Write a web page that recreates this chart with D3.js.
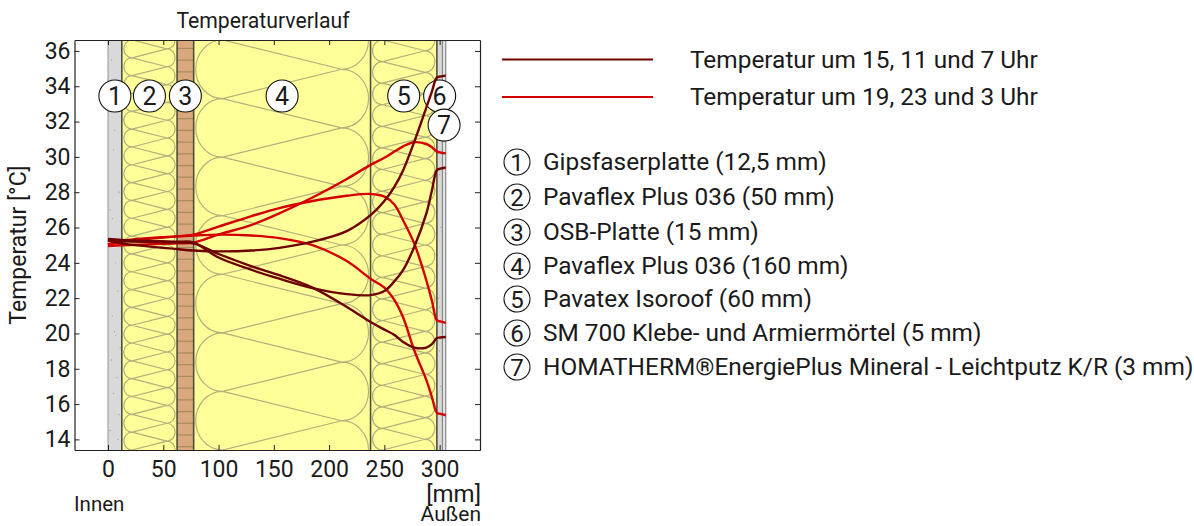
<!DOCTYPE html>
<html>
<head>
<meta charset="utf-8">
<script src="https://cdn.jsdelivr.net/npm/d3@7"></script>
<style>
  html, body { margin: 0; padding: 0; background: #fff; }
  svg { display: block; }
  text { font-family: Roboto, sans-serif; fill: #1a1a1a; }
</style>
</head>
<body>
<div id="chart"></div>
<script>
// Schichten von innen nach aussen
var layerNames = ['Gipsfaserplatte (12,5 mm)', 'Pavaflex Plus 036 (50 mm)', 'OSB-Platte (15 mm)',
  'Pavaflex Plus 036 (160 mm)', 'Pavatex Isoroof (60 mm)', 'SM 700 Klebe- und Armiermörtel (5 mm)',
  'HOMATHERM®EnergiePlus Mineral - Leichtputz K/R (3 mm)'];
var layerThickness = [12.5, 50, 15, 160, 60, 5, 3];
var layerKinds = ['gips', 'wool', 'osb', 'wool', 'wool', 'gips', 'putz'];
var woolLoops = [0, 23, 0, 7, 19, 0, 0];
var badgeTemps = [33.45, 33.45, 33.45, 33.45, 33.45, 33.45, 31.8];
var badgeMm = [6.25, 37.5, 70, 157.5, 267.5, 300, 304];

var xTicks = [0, 50, 100, 150, 200, 250, 300];
var yTicks = [14, 16, 18, 20, 22, 24, 26, 28, 30, 32, 34, 36];

var depth = [0, 12.5, 62.5, 77.5, 100, 130, 155, 185, 216, 237.5, 250, 259, 267, 277, 288, 293, 297.5, 300.5, 305.5];

// Temperatur um 15, 11 und 7 Uhr
var temp15 = [25.3, 25.1, 24.78, 24.7, 24.65, 24.7, 24.85, 25.2, 25.8, 26.7, 27.5, 28.3, 29.25, 30.85, 32.8, 33.7, 34.5, 34.55, 34.6];
var temp11 = [25.35, 25.3, 25.2, 25.15, 24.3, 23.6, 23.1, 22.57, 22.23, 22.17, 22.4, 22.95, 23.6, 24.9, 26.8, 28.1, 29.25, 29.33, 29.4];
var temp7 = [25.25, 25.22, 25.15, 25.1, 24.5, 23.8, 23.3, 22.6, 21.5, 20.65, 20.22, 19.92, 19.52, 19.2, 19.2, 19.4, 19.74, 19.77, 19.8];
// Temperatur um 19, 23 und 3 Uhr
var temp19 = [24.95, 25.0, 25.1, 25.15, 25.6, 26.15, 26.8, 27.7, 28.75, 29.55, 29.95, 30.3, 30.6, 30.83, 30.73, 30.55, 30.3, 30.25, 30.2];
var temp23 = [25.0, 25.2, 25.5, 25.6, 26.05, 26.65, 27.1, 27.5, 27.8, 27.9, 27.75, 27.3, 26.4, 25.1, 23.0, 21.85, 20.75, 20.68, 20.6];
var temp3 = [25.05, 25.25, 25.5, 25.55, 25.6, 25.55, 25.4, 25.0, 24.1, 23.1, 22.6, 21.9, 20.9, 19.05, 17.36, 16.4, 15.5, 15.45, 15.37];

var darkSeries = [temp15, temp11, temp7];
var redSeries = [temp19, temp23, temp3];

var legendLabels = ['Temperatur um 15, 11 und 7 Uhr', 'Temperatur um 19, 23 und 3 Uhr'];
var specksMm = [3, 8, 5, 10, 2, 7, 9, 4, 6, 11, 3, 8, 5, 10, 2, 7, 9, 6, 4, 300, 301, 299, 300, 301, 300];
var specksT = [35.5, 33, 30.4, 28, 27, 24, 22.4, 21, 20.1, 19.2, 18.5, 17.5, 16.6, 15.4, 14.5, 19.9, 14, 31.5, 26.5, 29, 26, 22, 19, 17, 21.5];

var w = 1194;
var h = 526;
var margin = ({top: 40, right: 714, bottom: 76, left: 74.5});
var dark = '#6e0000';
var red = '#d40000';

var x = d3.scaleLinear().domain([-30.3, 336.5]).range([margin.left, w - margin.right]);
var y = d3.scaleLinear().domain([13.4, 36.62]).range([h - margin.bottom, margin.top]);

var svg = d3.select('#chart').append('svg').attr('width', w).attr('height', h);

var yTop = y.range()[1];
var yBottom = y.range()[0];
var edges = Array.from(d3.cumsum(layerThickness));
var starts = [0].concat(edges);

// Schichten
layerThickness.forEach(function(t, i) {
  var x0 = x(starts[i]);
  var x1 = x(starts[i + 1]);
  var fill = {gips: '#d9d9d9', wool: '#ffff99', osb: '#d9a87c', putz: '#e4e4e4'}[layerKinds[i]];
  svg.append('rect').attr('x', x0).attr('y', yTop).attr('width', x1 - x0).attr('height', yBottom - yTop).attr('fill', fill);

  if (layerKinds[i] == 'wool') {
    var n = woolLoops[i];
    var p = (yBottom - yTop) / n;
    var ry = p / 2;
    var rx = ry * 0.92;
    var xl = x0 + 2 + rx;
    var xr = x1 - 2 - rx;
    var s = '';
    for (var k = 0; k < n; k++) {
      var yl = yTop + k * p;
      s += 'M' + xl + ',' + yl + 'A' + rx + ',' + ry + ' 0 0 0 ' + xl + ',' + (yl + p);
      s += 'M' + xr + ',' + (yl - ry) + 'A' + rx + ',' + ry + ' 0 0 1 ' + xr + ',' + (yl + ry);
      s += 'M' + xl + ',' + yl + 'L' + xr + ',' + (yl + ry);
      s += 'M' + xl + ',' + yl + 'L' + xr + ',' + (yl - ry);
    }
    s += 'M' + xr + ',' + (yBottom - ry) + 'A' + rx + ',' + ry + ' 0 0 1 ' + xr + ',' + (yBottom + ry);
    s += 'M' + xl + ',' + yBottom + 'L' + xr + ',' + (yBottom - ry);
    svg.append('clipPath').attr('id', 'clip' + i).append('rect')
      .attr('x', x0).attr('y', yTop).attr('width', x1 - x0).attr('height', yBottom - yTop);
    svg.append('path').attr('d', s).attr('clip-path', 'url(#clip' + i + ')')
      .attr('fill', 'none').attr('stroke', '#b3b07c').attr('stroke-width', 1.2);
  }

  if (layerKinds[i] == 'osb') {
    d3.range(35).forEach(function(k) {
      var yy = yBottom - 3.3 - k * (yBottom - yTop) / 35;
      svg.append('line').attr('x1', x0).attr('x2', x1).attr('y1', yy).attr('y2', yy)
        .attr('stroke', '#a98a5c').attr('stroke-width', 1.2);
    });
  }
});

// Punkte im Gips
svg.selectAll('.speck').data(specksMm).enter().append('circle')
  .attr('class', 'speck')
  .attr('cx', d => x(d))
  .attr('cy', (d, i) => y(specksT[i]))
  .attr('r', 0.6)
  .attr('fill', '#999');

// Schichtgrenzen
var borders = starts.slice(1);
svg.selectAll('.border').data(borders).enter().append('line')
  .attr('class', 'border')
  .attr('x1', d => x(d)).attr('x2', d => x(d))
  .attr('y1', yTop).attr('y2', yBottom)
  .attr('stroke', (d, i) => i >= 5 ? '#888' : '#4f4f40')
  .attr('stroke-width', (d, i) => i >= 5 ? 1.2 : 1.6);
svg.append('line').attr('x1', x(0)).attr('x2', x(0)).attr('y1', yTop).attr('y2', yBottom)
  .attr('stroke', '#999').attr('stroke-width', 1);

// Nummern im Diagramm (unter den Kurven)
var badges = svg.selectAll('.badge').data(badgeMm).enter().append('g')
  .attr('class', 'badge')
  .attr('transform', (d, i) => 'translate(' + x(d) + ',' + y(badgeTemps[i]) + ')');
badges.append('circle').attr('r', 16).attr('fill', '#fff').attr('stroke', '#111').attr('stroke-width', 1.1);
badges.append('text').attr('text-anchor', 'middle').attr('dy', '0.36em').attr('font-size', 25).text((d, i) => i + 1);

// Kurven
var line = d3.line().x((d, i) => x(depth[i])).y(d => y(d)).curve(d3.curveCatmullRom.alpha(0.5));
svg.selectAll('.red').data(redSeries).enter().append('path')
  .attr('class', 'red').attr('d', line).attr('fill', 'none').attr('stroke', red).attr('stroke-width', 2.4);
svg.selectAll('.dark').data(darkSeries).enter().append('path')
  .attr('class', 'dark').attr('d', line).attr('fill', 'none').attr('stroke', dark).attr('stroke-width', 2.4);

// Achsen
var xAxis = g => g
  .attr('transform', 'translate(0,' + yBottom + ')')
  .call(d3.axisBottom(x).tickValues(xTicks).tickSizeInner(-5).tickSizeOuter(0).tickPadding(11))
  .call(g => g.selectAll('text').attr('font-size', 23))
  .call(g => g.selectAll('line').attr('stroke', '#222'));
var xAxisTop = g => g
  .attr('transform', 'translate(0,' + yTop + ')')
  .call(d3.axisTop(x).tickValues(xTicks).tickSizeInner(-5).tickSizeOuter(0).tickFormat(''))
  .call(g => g.selectAll('line').attr('stroke', '#222'));
var yAxis = g => g
  .attr('transform', 'translate(' + margin.left + ',0)')
  .call(d3.axisLeft(y).tickValues(yTicks).tickSizeInner(-5).tickSizeOuter(0).tickPadding(4))
  .call(g => g.selectAll('text').attr('font-size', 23))
  .call(g => g.selectAll('line').attr('stroke', '#222'));
var yAxisRight = g => g
  .attr('transform', 'translate(' + (w - margin.right) + ',0)')
  .call(d3.axisRight(y).tickValues(yTicks).tickSizeInner(-5).tickSizeOuter(0).tickFormat(''))
  .call(g => g.selectAll('line').attr('stroke', '#222'));

svg.append('g').call(xAxis);
svg.append('g').call(xAxisTop);
svg.append('g').call(yAxis);
svg.append('g').call(yAxisRight);
svg.selectAll('.domain').attr('stroke', '#222').attr('stroke-width', 1.2);

// Beschriftung
svg.append('text').attr('x', 263).attr('y', 28).attr('text-anchor', 'middle').attr('font-size', 21.2).text('Temperaturverlauf');
svg.append('text').attr('transform', 'translate(26,245) rotate(-90)').attr('text-anchor', 'middle').attr('font-size', 23).text('Temperatur [°C]');
svg.append('text').attr('x', 74).attr('y', 511).attr('font-size', 20.5).text('Innen');
svg.append('text').attr('x', 481).attr('y', 501.5).attr('text-anchor', 'end').attr('font-size', 24).text('[mm]');
svg.append('text').attr('x', 481).attr('y', 520.8).attr('text-anchor', 'end').attr('font-size', 21).text('Außen');

// Legende
var legendY = [59.5, 97];
[dark, red].forEach(function(c, i) {
  svg.append('line').attr('x1', 502).attr('x2', 653).attr('y1', legendY[i]).attr('y2', legendY[i])
    .attr('stroke', c).attr('stroke-width', 2);
  svg.append('text').attr('x', 690).attr('y', legendY[i] + 8).attr('font-size', 24.4).text(legendLabels[i]);
});

var listY = [162, 197, 232, 266, 299, 333, 367];
layerNames.forEach(function(name, i) {
  svg.append('circle').attr('cx', 517).attr('cy', listY[i]).attr('r', 13).attr('fill', '#fff').attr('stroke', '#111').attr('stroke-width', 1.1);
  svg.append('text').attr('x', 517).attr('y', listY[i]).attr('dy', '0.36em').attr('text-anchor', 'middle').attr('font-size', 24).text(i + 1);
  svg.append('text').attr('x', 543).attr('y', listY[i] + 8).attr('font-size', 24.4).text(name);
});
</script>
</body>
</html>
